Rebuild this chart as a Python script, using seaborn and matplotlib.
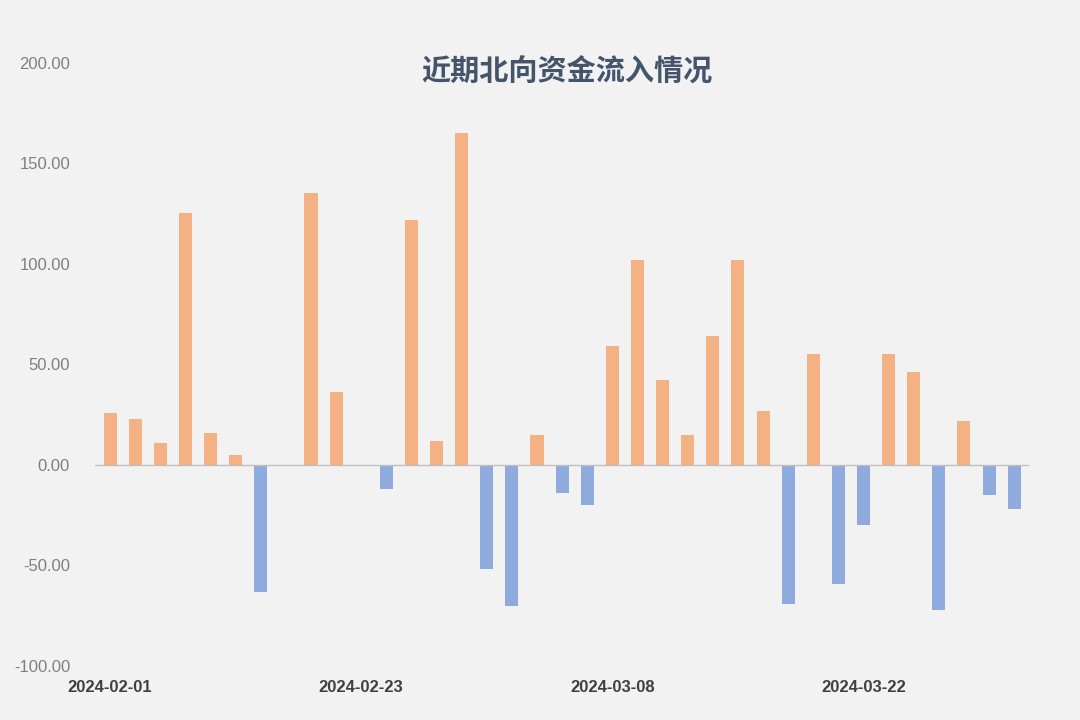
import matplotlib
matplotlib.use("Agg")
import matplotlib.pyplot as plt
import seaborn as sns
import pandas as pd

dates = ["2024-02-01", "2024-02-02", "2024-02-05", "2024-02-06", "2024-02-07",
         "2024-02-08", "2024-02-19", "2024-02-20", "2024-02-21", "2024-02-22",
         "2024-02-23", "2024-02-26", "2024-02-27", "2024-02-28", "2024-02-29",
         "2024-03-01", "2024-03-04", "2024-03-05", "2024-03-06", "2024-03-07",
         "2024-03-08", "2024-03-11", "2024-03-12", "2024-03-13", "2024-03-14",
         "2024-03-15", "2024-03-18", "2024-03-19", "2024-03-20", "2024-03-21",
         "2024-03-22", "2024-03-25", "2024-03-26", "2024-03-27", "2024-03-28",
         "2024-03-29", "2024-04-01"]
flows = [26, 23, 11, 125, 16, 5, -63, 0, 135, 36,
         0, -12, 122, 12, 165, -52, -70, 15, -14, -20,
         59, 102, 42, 15, 64, 102, 27, -69, 55, -59,
         -30, 55, 46, -72, 22, -15, -22]
shown_labels = ["2024-02-01", "2024-02-23", "2024-03-08", "2024-03-22"]

df = pd.DataFrame({"date": dates, "flow": flows})
df["sign"] = ["pos" if v >= 0 else "neg" for v in df["flow"]]

sns.set_style("white")
plt.rcParams['font.family'] = ['Noto Sans CJK SC', 'DejaVu Sans']

fig = plt.figure(figsize=(10.8, 7.2), dpi=100, facecolor="#F2F2F2")
ax = fig.add_axes([0.088, 0.075, 0.865, 0.838])
ax.set_facecolor("#F2F2F2")
sns.barplot(data=df, x="date", y="flow", hue="sign",
            palette={"pos": "#F4B183", "neg": "#8FAADC"}, saturation=1,
            linewidth=0, width=0.52, legend=False, dodge=False, ax=ax)
ax.axhline(0, color="#BFBFBF", lw=1)
ax.set_ylim(-100, 200)
ax.set_xlim(-0.6, len(dates) - 0.4)
ax.set_yticks(range(-100, 201, 50))
ax.set_yticklabels([f"{v:.2f}" for v in range(-100, 201, 50)],
                   color="#7F7F7F", fontsize=12, family=['Liberation Sans'])
ax.tick_params(axis="y", length=0, pad=18)
ticks = [dates.index(d) for d in shown_labels]
ax.set_xticks(ticks)
ax.set_xticklabels(shown_labels, color="#404040", fontsize=12,
                   fontweight="bold", family=['Liberation Sans'])
ax.tick_params(axis="x", length=0, pad=10)
for s in ax.spines.values():
    s.set_visible(False)
ax.set_xlabel("")
ax.set_ylabel("")
fig.text(0.525, 0.9, "近期北向资金流入情况", ha="center", va="center",
         fontsize=21, fontweight="bold", color="#44546A")
fig.savefig("out.png", facecolor=fig.get_facecolor())
